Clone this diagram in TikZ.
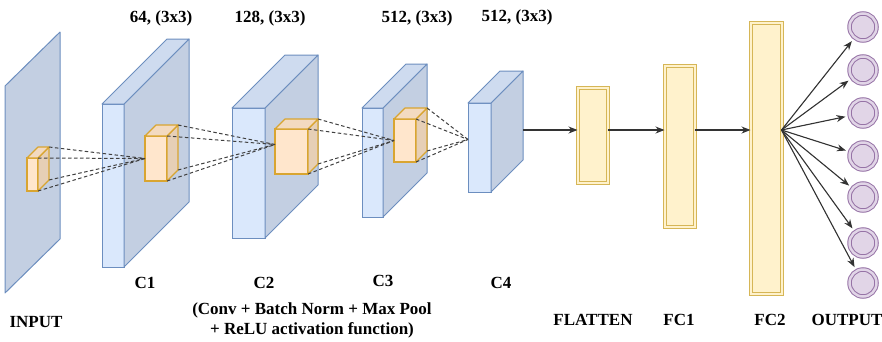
\documentclass[tikz,border=0pt]{standalone}
\usepackage{fontspec}
\setmainfont{Liberation Serif}
\usepackage{xcolor}
\usetikzlibrary{arrows,arrows.meta,calc}
\definecolor{layerfill}{HTML}{DAE8FC}
\definecolor{layertop}{HTML}{CEDBEF}
\definecolor{layerside}{HTML}{C3CFE2}
\definecolor{layerline}{HTML}{6C8EBF}
\definecolor{kernfill}{HTML}{FFE6CC}
\definecolor{kerntop}{HTML}{F3DAC0}
\definecolor{kernside}{HTML}{E6CFB6}
\definecolor{kernline}{HTML}{D9A530}
\definecolor{densefill}{HTML}{FFF2CC}
\definecolor{denseline}{HTML}{D6B656}
\definecolor{unitfill}{HTML}{E1D5E7}
\definecolor{unitline}{HTML}{9673A6}
\tikzset{
	layer front/.style={draw=layerline, fill=layerfill, line width=1pt, inner sep=0pt, outer sep=0pt},
	layer top/.style={draw=layerline, fill=layertop, line width=1pt, line join=round},
	layer side/.style={draw=layerline, fill=layerside, line width=1pt, line join=round},
	kernel front/.style={draw=kernline, fill=kernfill, line width=1.2pt, inner sep=0pt, outer sep=0pt},
	kernel top/.style={draw=kernline, fill=kerntop, line width=1.2pt, line join=round},
	kernel side/.style={draw=kernline, fill=kernside, line width=1.2pt, line join=round},
	link/.style={draw=black!75, line width=1pt, dash pattern=on 3.5pt off 2.5pt},
	dense/.style={draw=denseline, double=densefill, double distance=2pt, fill=densefill,
			line width=1pt, inner sep=0pt, outer sep=0pt},
	unit/.style={circle, draw=unitline, double=unitfill, double distance=2.5pt, fill=unitfill,
			line width=1pt, inner sep=0pt, minimum size=27pt},
	lbl/.style={font=\bfseries\fontsize{17}{20}\selectfont, align=center},
	flow/.style={-{Stealth[length=9pt, width=7pt]}, line width=1.1pt, draw=black!80, fill=black!80}
}
% name, x, y, width, height, depth, kind
\newcommand{\convslab}[7]{%
	\node[#7 front, minimum width=#4pt, minimum height=#5pt] (#1) at (#2,#3) {};
	\draw[#7 side] (#1.north east) -- ++(#6,-#6) coordinate (#1-bne) -- ++(0,#5) coordinate (#1-bse) -- (#1.south east) -- cycle;
	\draw[#7 top] (#1.north west) -- ++(#6,-#6) -- (#1-bne) -- (#1.north east) -- cycle;
}

\begin{document}
\begin{tikzpicture}[x=1pt, y=-1pt]
	\useasboundingbox (0,0) rectangle (882,341);

	% input plane
	\coordinate (in) at (5,86);
	\draw[layer side] (in) -- ++(55,-54) -- ++(0,207) -- ++(-55,54) -- cycle;

	% conv layers
	\convslab{c1}{113}{185.5}{22}{163}{65}{layer}
	\convslab{c2}{248.5}{173}{33}{130}{53}{layer}
	\convslab{c3}{372.5}{162.5}{21}{109}{44}{layer}
	\convslab{c4}{479.5}{147.5}{23}{89}{32}{layer}

	% kernels
	\convslab{k0}{32.5}{174.5}{11}{33}{11}{kernel}
	\convslab{k1}{156}{158.5}{22}{45}{11}{kernel}
	\convslab{k2}{291.5}{151.5}{33}{45}{10}{kernel}
	\convslab{k3}{405}{140.5}{22}{43}{11}{kernel}

	% receptive field lines
	\coordinate (t1) at (k1.west);
	\coordinate (t2) at ($(k2.west)+(0,-7)$);
	\coordinate (t3) at (k3.west);
	\coordinate (t4) at ($(c4.west)+(0,-8)$);
	\foreach \k/\t in {k0/t1, k1/t2, k2/t3, k3/t4}
		\foreach \a in {north east, south east}
			\draw[link] (\k.\a) -- (\t);
	\foreach \k/\t in {k0/t1, k1/t2, k2/t3, k3/t4}
		\foreach \a in {bne, bse}
			\draw[link] (\k-\a) -- (\t);

	% dense part
	\node[dense, minimum width=30pt, minimum height=95pt] (flatten) at (592.5,135) {};
	\node[dense, minimum width=30pt, minimum height=161pt] (fc1) at (679.5,146) {};
	\node[dense, minimum width=31pt, minimum height=271pt] (fc2) at (766,158) {};

	\coordinate (row) at (0,130);
	\draw[flow] (c4-bse |- row) -- (flatten.west |- row);
	\draw[flow] (flatten.east |- row) -- (fc1.west |- row);
	\draw[flow] (fc1.east |- row) -- (fc2.west |- row);

	% output units
	\foreach \i/\y in {1/27, 2/70, 3/113, 4/156, 5/197, 6/243, 7/283} {
		\node[unit] (o\i) at (863,\y) {};
		\draw[flow, shorten >=4pt] (fc2.east |- row) -- (o\i);
	}

	% labels
	\node[lbl] (f1) at (161,18) {64, (3x3)};
	\node[lbl] (f2) at (270,18) {128, (3x3)};
	\node[lbl] (f3) at (417,18) {512, (3x3)};
	\node[lbl] (f4) at (517,17) {512, (3x3)};
	\node[lbl] (l1) at (145,283) {C1};
	\node[lbl] (l2) at (264,283) {C2};
	\node[lbl] (l3) at (383,281) {C3};
	\node[lbl] (l4) at (501,283) {C4};
	\node[lbl] (cap) at (312,320) {(Conv + Batch Norm + Max Pool\\ + ReLU activation function)};
	\node[lbl] (lin) at (36,322) {INPUT};
	\node[lbl] (lfl) at (593,320) {FLATTEN};
	\node[lbl] (lf1) at (679,320) {FC1};
	\node[lbl] (lf2) at (770,320) {FC2};
	\node[lbl] (lout) at (847,320) {OUTPUT};
\end{tikzpicture}
\end{document}
